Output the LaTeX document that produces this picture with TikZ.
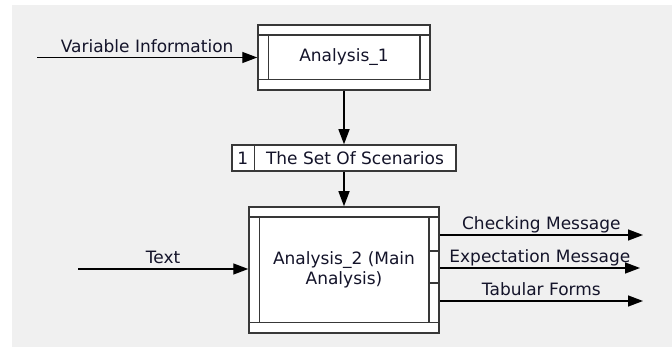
\documentclass[tikz,border=0pt]{standalone}
\usepackage{fontspec}
\setmainfont{DejaVu Sans}
\usetikzlibrary{arrows.meta}

\definecolor{panel}{HTML}{F0F0F0}
\definecolor{edge}{HTML}{383838}
\definecolor{ink}{HTML}{14142A}

\begin{document}
\begin{tikzpicture}[x=1pt, y=-1pt,
    font=\fontsize{17}{20}\selectfont, text=ink,
    func/.style={draw=edge, line width=1.5pt, fill=white, inner sep=0pt},
    frame/.style={draw=edge, line width=1.5pt},
    flow/.style={line width=1.4pt, -{Triangle[length=15pt,width=11pt]}},
    lbl/.style={midway, above, inner sep=0.5pt, text depth=4pt}]
    \useasboundingbox (0,0) rectangle (672,347);
    \fill[white] (0,0) rectangle (672,347);
    \fill[panel] (12,5) rectangle (672,347);

    % activity boxes
    \node[func, minimum width=172pt, minimum height=65pt] (an1) at (344,57.5) {Analysis\_1};
    \node[func, minimum width=224pt, minimum height=26pt] (sc) at (344,158) {};
    \node (scnum) at ([xshift=11.5pt]sc.west) {1};
    \node (scname) at ([xshift=11pt]sc.center) {The Set Of Scenarios};
    \draw[frame] ([xshift=23pt]sc.north west) -- ([xshift=23pt]sc.south west);
    \node[func, minimum width=190pt, minimum height=126pt, align=center] (an2) at (344,270) {Analysis\_2 (Main\\Analysis)};

    % inner strips of the two activities
    \foreach \b in {an1,an2} {
        \draw[frame] ([yshift=-11pt]\b.north west) -- ([yshift=-11pt]\b.north east)
            ([yshift=11pt]\b.south west) -- ([yshift=11pt]\b.south east)
            ([shift={(11pt,-11pt)}]\b.north west) -- ([shift={(11pt,11pt)}]\b.south west)
            ([shift={(-11pt,-11pt)}]\b.north east) -- ([shift={(-11pt,11pt)}]\b.south east);
    }
    \foreach \dy in {45,77}
        \draw[frame] ([shift={(-11pt,-\dy pt)}]an2.north east) -- ([yshift=-\dy pt]an2.north east);

    % inputs and outputs
    \coordinate (vin) at (37,57.5);
    \coordinate (txt) at (78,269);
    \coordinate (chk) at (643,235);
    \coordinate (exp) at (640,268);
    \coordinate (tab) at (643,301);
    \draw[flow] (vin) -- (an1.west |- vin) node[lbl] {Variable Information};
    \draw[flow] (txt) -- (an2.west |- txt) node[lbl] {Text};
    \draw[flow] (an2.east |- chk) -- (chk) node[lbl] {Checking Message};
    \draw[flow] (an2.east |- exp) -- (exp) node[lbl] {Expectation Message};
    \draw[flow] (an2.east |- tab) -- (tab) node[lbl] {Tabular Forms};
    \draw[flow] (an1) -- (sc);
    \draw[flow] (sc) -- (an2);
\end{tikzpicture}
\end{document}
